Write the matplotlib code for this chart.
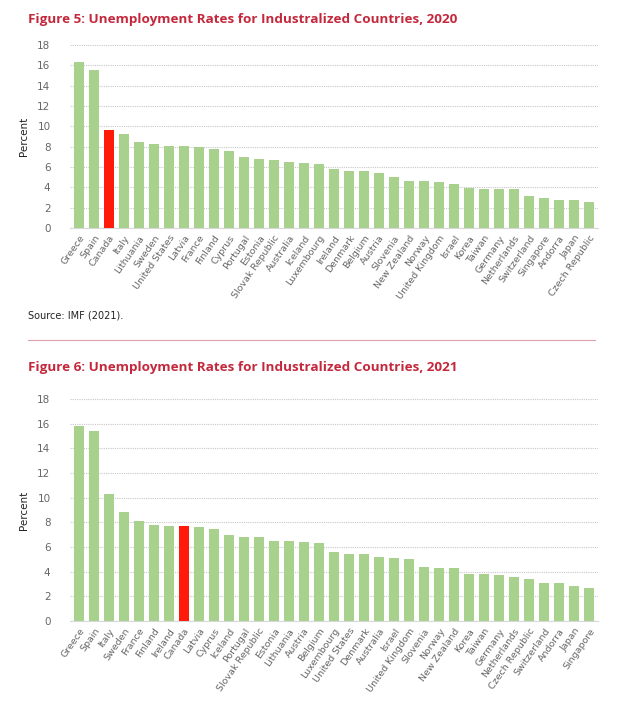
import matplotlib.pyplot as plt
import numpy as np
from matplotlib import font_manager

countries_2020 = ["Greece", "Spain", "Canada", "Italy", "Lithuania", "Sweden", "United States",
                  "Latvia", "France", "Finland", "Cyprus", "Portugal", "Estonia", "Slovak Republic",
                  "Australia", "Iceland", "Luxembourg", "Ireland", "Denmark", "Belgium", "Austria",
                  "Slovenia", "New Zealand", "Norway", "United Kingdom", "Israel", "Korea", "Taiwan",
                  "Germany", "Netherlands", "Switzerland", "Singapore", "Andorra", "Japan",
                  "Czech Republic"]
rates_2020 = [16.3, 15.5, 9.6, 9.2, 8.5, 8.3, 8.1, 8.1, 8.0, 7.8, 7.6, 7.0, 6.8, 6.7, 6.5, 6.4,
              6.3, 5.8, 5.6, 5.6, 5.4, 5.0, 4.6, 4.6, 4.5, 4.3, 3.9, 3.8, 3.8, 3.8, 3.1, 3.0,
              2.8, 2.8, 2.6]

countries_2021 = ["Greece", "Spain", "Italy", "Sweden", "France", "Finland", "Ireland", "Canada",
                  "Latvia", "Cyprus", "Iceland", "Portugal", "Slovak Republic", "Estonia",
                  "Lithuania", "Austria", "Belgium", "Luxembourg", "United States", "Denmark",
                  "Australia", "Israel", "United Kingdom", "Slovenia", "Norway", "New Zealand",
                  "Korea", "Taiwan", "Germany", "Netherlands", "Czech Republic", "Switzerland",
                  "Andorra", "Japan", "Singapore"]
rates_2021 = [15.8, 15.4, 10.3, 8.8, 8.1, 7.8, 7.7, 7.7, 7.6, 7.5, 7.0, 6.8, 6.8, 6.5, 6.5, 6.4,
              6.3, 5.6, 5.4, 5.4, 5.2, 5.1, 5.0, 4.4, 4.3, 4.3, 3.8, 3.8, 3.7, 3.6, 3.4, 3.1,
              3.1, 2.8, 2.7]

highlight = "Canada"
green = "#a9d18e"
red = "#ff1a0a"
title_red = "#c4283c"
gray = "#666666"

# narrow font for the titles if it is there
names = {f.name for f in font_manager.fontManager.ttflist}
title_font = ["Liberation Sans Narrow"] if "Liberation Sans Narrow" in names else ["Open Sans"]

W, H = 640, 701
fig = plt.figure(figsize=(W / 100, H / 100), dpi=100)


def px_axes(x0, x1, ytop, ybot):
    return fig.add_axes([x0 / W, 1 - ybot / H, (x1 - x0) / W, (ybot - ytop) / H])


def draw(ax, names, vals):
    x = np.arange(len(names))
    colors = [red if n == highlight else green for n in names]
    ax.bar(x, vals, width=0.68, color=colors, zorder=3)
    ax.set_ylim(0, 18)
    ax.set_yticks(np.arange(0, 19, 2))
    ax.set_xlim(-0.6, len(names) - 0.4)
    ax.set_xticks(x)
    ax.set_xticklabels(names, rotation=55, ha="right", rotation_mode="anchor",
                       fontsize=6.8, color=gray)
    ax.tick_params(axis="both", length=0, pad=4)
    ax.tick_params(axis="y", labelsize=7.5, labelcolor=gray, pad=14)
    ax.yaxis.grid(True, linestyle=(0, (1, 1)), color="#c8c8c8", linewidth=0.8, zorder=0)
    for s in ["top", "right", "left"]:
        ax.spines[s].set_visible(False)
    ax.spines["bottom"].set_color("#d8d8d8")
    ax.set_ylabel("Percent", fontsize=7.5, color="#222222", labelpad=6)


fig.text(28 / W, 1 - 20 / H, "Figure 5: Unemployment Rates for Industralized Countries, 2020",
         color=title_red, fontsize=9.7, fontweight="bold", va="center", ha="left",
         family=title_font)
ax1 = px_axes(70, 598, 45, 228)
draw(ax1, countries_2020, rates_2020)

fig.text(28 / W, 1 - 316 / H, "Source: IMF (2021).", fontsize=7, color="#222222",
         va="center", ha="left")
fig.add_artist(plt.Line2D([28 / W, 595 / W], [1 - 340 / H, 1 - 340 / H],
                          color="#e0a0a8", linewidth=0.8))

fig.text(28 / W, 1 - 367 / H, "Figure 6: Unemployment Rates for Industralized Countries, 2021",
         color=title_red, fontsize=9.7, fontweight="bold", va="center", ha="left",
         family=title_font)
ax2 = px_axes(70, 598, 399, 621)
draw(ax2, countries_2021, rates_2021)

fig.savefig("out.png", dpi=100)
